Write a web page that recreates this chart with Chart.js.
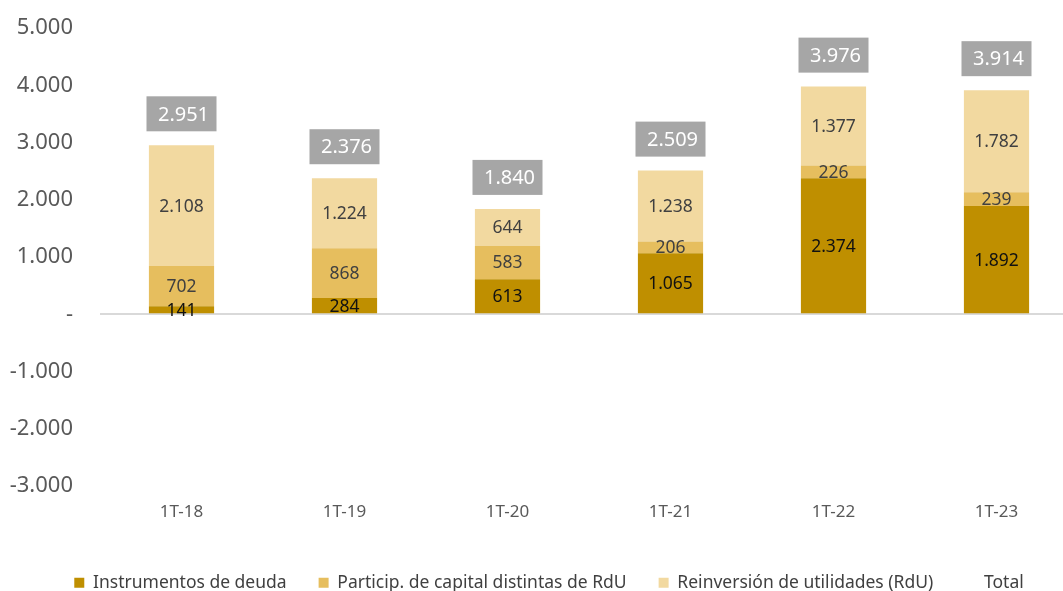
<!DOCTYPE html>
<html>
<head>
<meta charset="utf-8">
<script src="https://cdn.jsdelivr.net/npm/chart.js@4/dist/chart.umd.min.js"></script>
<style>
  html, body { margin:0; padding:0; background:#fff; overflow:hidden; }
  #wrap { position:absolute; left:0; top:0; width:1100px; height:591px; }
</style>
</head>
<body>
<div id="wrap"><canvas id="c"></canvas></div>
<script>
/* ═══ DATA ═══════════════════════════════════════════ */
const PERIODS  = ['1T-18','1T-19','1T-20','1T-21','1T-22','1T-23'];
const DEUDA    = [141, 284, 613, 1065, 2374, 1892];
const CAPITAL  = [702, 868, 583, 206, 226, 239];
const RDU      = [2108, 1224, 644, 1238, 1377, 1782];
const TOTAL    = [2951, 2376, 1840, 2509, 3976, 3914];
const Y_TICKS  = [-3000, -2000, -1000, 0, 1000, 2000, 3000, 4000, 5000];

const FONT = '"Noto Sans", "Open Sans", sans-serif';
const C_DARK = '#BF8F00', C_MID = '#E6BE5E', C_LIGHT = '#F2D9A0';

function fmt(v){ // 1234 -> 1.234
  const s = Math.abs(v).toString().replace(/\B(?=(\d{3})+(?!\d))/g, '.');
  return (v < 0 ? '-' : '') + s;
}

// labels in segments + grey total boxes
const labelPlugin = {
  id: 'segLabels',
  afterInit(chart) {
    // keep the wide horizontal item spacing but a shorter legend block
    const lg = chart.legend;
    if (!lg) return;
    const fit0 = lg.fit, draw0 = lg.draw;
    lg.fit = function(){ fit0.call(this); this.height = 49; };
    lg.draw = function(){
      const ctx = this.ctx;
      ctx.save(); ctx.translate(10, 0);
      draw0.call(this);
      ctx.restore();
    };
  },
  afterDatasetsDraw(chart) {
    const ctx = chart.ctx;
    ctx.save();
    ctx.textAlign = 'center';
    ctx.textBaseline = 'middle';
    chart.data.datasets.forEach((ds, di) => {
      const meta = chart.getDatasetMeta(di);
      if (meta.hidden) return;
      meta.data.forEach((el, i) => {
        const v = ds.data[i];
        if (ds.type === 'line') {
          const w = 70, h = 35;
          const x = el.x, yb = el.y - 14;
          ctx.fillStyle = '#A6A6A6';
          ctx.fillRect(x - w/2, yb - h, w, h);
          ctx.fillStyle = '#fff';
          ctx.font = '20px ' + FONT;
          ctx.fillText(fmt(v), x + 2, yb - h/2 + 1);
        } else {
          const y = (el.y + el.base) / 2;
          ctx.fillStyle = di === 0 ? '#111' : '#404040';
          ctx.font = '17.5px ' + FONT;
          ctx.fillText(fmt(v), el.x, y + 1);
        }
      });
    });
    ctx.restore();
  }
};

new Chart(document.getElementById('c'), {
  type: 'bar',
  data: {
    labels: PERIODS,
    datasets: [
      {label:'Instrumentos de deuda', data:DEUDA, backgroundColor:C_DARK, stack:'s'},
      {label:'Particip. de capital distintas de RdU', data:CAPITAL, backgroundColor:C_MID, stack:'s'},
      {label:'Reinversión de utilidades (RdU)', data:RDU, backgroundColor:C_LIGHT, stack:'s'},
      {label:'Total', type:'line', data:TOTAL, stack:'total', showLine:false,
        pointRadius:0, borderColor:'rgba(0,0,0,0)', backgroundColor:'rgba(0,0,0,0)'}
    ]
  },
  options: {
    responsive:true, maintainAspectRatio:false, animation:false,
    categoryPercentage:1, barPercentage:0.4,
    layout:{padding:{top:28, right:22, left:0, bottom:0}},
    plugins:{
      tooltip:{enabled:false},
      legend:{position:'bottom',
        labels:{font:{family:FONT,size:17.5}, color:'#404040', boxWidth:10, boxHeight:10, padding:32,
          generateLabels(chart){
            const items = Chart.defaults.plugins.legend.labels.generateLabels(chart);
            items.forEach(it => {
              const ds = chart.data.datasets[it.datasetIndex];
              it.fillStyle = ds.type === 'line' ? 'rgba(0,0,0,0)' : ds.backgroundColor;
              it.strokeStyle = 'rgba(0,0,0,0)';
              it.lineWidth = 0;
            });
            return items;
          }}}
    },
    scales:{
      x:{stacked:true,
        afterFit(s){ s.height = 56; },
        grid:{display:false}, border:{display:false},
        ticks:{font:{family:FONT,size:17}, color:'#595959', padding:8}},
      y:{stacked:true, min:-3000, max:5000,
        afterBuildTicks(s){ s.ticks = Y_TICKS.map(v => ({value:v})); },
        afterFit(s){ s.width = 100; s.paddingTop = 13; s.paddingBottom = 13; },
        border:{display:false},
        grid:{drawTicks:false, lineWidth:2,
          color: c => c.tick && c.tick.value === 0 ? '#D9D9D9' : 'rgba(0,0,0,0)'},
        ticks:{font:{family:FONT,size:22}, color:'#595959', padding:27,
          callback: v => v === 0 ? '-' : fmt(v)}}
    }
  },
  plugins:[labelPlugin]
});
</script>
</body>
</html>
